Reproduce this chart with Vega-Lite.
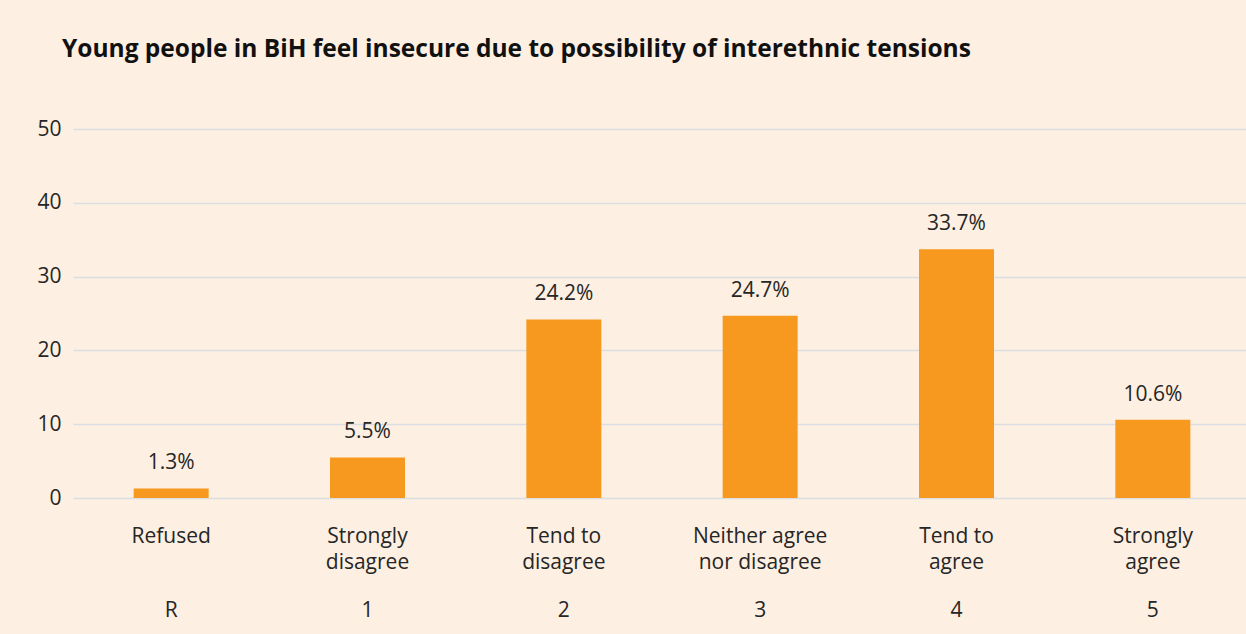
{
  "$schema": "https://vega.github.io/schema/vega-lite/v6.json",
  "autosize": {"type": "none"},
  "width": 1145,
  "height": 369,
  "padding": {"left": 76, "top": 129, "right": 25, "bottom": 136},
  "background": "#fdefe1",
  "title": {
    "text": "Young people in BiH feel insecure due to possibility of interethnic tensions",
    "anchor": "start",
    "frame": "group",
    "dx": -14,
    "offset": 37,
    "baseline": "alphabetic",
    "font": "Open Sans",
    "fontSize": 24.5,
    "fontWeight": "bold",
    "color": "#111111"
  },
  "data": {
    "values": [
      {"category": "Refused", "code": "R", "value": 1.3},
      {"category": "Strongly disagree", "code": "1", "value": 5.5},
      {"category": "Tend to disagree", "code": "2", "value": 24.2},
      {"category": "Neither agree nor disagree", "code": "3", "value": 24.7},
      {"category": "Tend to agree", "code": "4", "value": 33.7},
      {"category": "Strongly agree", "code": "5", "value": 10.6}
    ]
  },
  "transform": [
    {"calculate": "format(datum.value, '.1f') + '%'", "as": "label"}
  ],
  "layer": [
    {
      "encoding": {
        "x": {
          "field": "category",
          "type": "nominal",
          "sort": null,
          "scale": {"range": [-3, 1175], "paddingInner": 0.618, "paddingOuter": 0.309},
          "axis": {
            "title": null,
            "orient": "bottom",
            "labelAngle": 0,
            "ticks": false,
            "domain": false,
            "grid": false,
            "labelFont": "Open Sans",
            "labelFontSize": 21,
            "labelColor": "#262626",
            "labelBaseline": "alphabetic",
            "labelPadding": 44,
            "labelLineHeight": 26,
            "labelLimit": 300,
            "labelExpr": "datum.value == 'Refused' ? 'Refused' : datum.value == 'Strongly disagree' ? ['Strongly', 'disagree'] : datum.value == 'Tend to disagree' ? ['Tend to', 'disagree'] : datum.value == 'Neither agree nor disagree' ? ['Neither agree', 'nor disagree'] : datum.value == 'Tend to agree' ? ['Tend to', 'agree'] : ['Strongly', 'agree']"
          }
        },
        "y": {
          "field": "value",
          "type": "quantitative",
          "scale": {"domain": [0, 50]},
          "axis": {
            "title": null,
            "values": [0, 10, 20, 30, 40, 50],
            "ticks": false,
            "domain": false,
            "grid": true,
            "gridColor": "#dcdde2",
            "gridWidth": 1.5,
            "labelFont": "Open Sans",
            "labelFontSize": 21,
            "labelColor": "#262626",
            "labelPadding": 15
          }
        }
      },
      "layer": [
        {"mark": {"type": "bar", "color": "#f8991f"}},
        {
          "mark": {"type": "text", "dy": -19, "baseline": "alphabetic", "font": "Open Sans", "fontSize": 21, "color": "#262626"},
          "encoding": {"text": {"field": "label", "type": "nominal"}}
        }
      ]
    },
    {
      "mark": {"type": "tick", "opacity": 0},
      "encoding": {
        "x": {
          "field": "code",
          "type": "nominal",
          "sort": null,
          "scale": {"range": [-3, 1175], "paddingInner": 0.618, "paddingOuter": 0.309},
          "axis": {
            "title": null,
            "orient": "bottom",
            "labelAngle": 0,
            "ticks": false,
            "domain": false,
            "grid": false,
            "labelFont": "Open Sans",
            "labelFontSize": 21,
            "labelColor": "#262626",
            "labelBaseline": "alphabetic",
            "labelPadding": 118
          }
        },
        "y": {"field": "value", "type": "quantitative"}
      }
    }
  ],
  "resolve": {"scale": {"x": "independent"}, "axis": {"x": "independent"}},
  "config": {"view": {"stroke": null}}
}
